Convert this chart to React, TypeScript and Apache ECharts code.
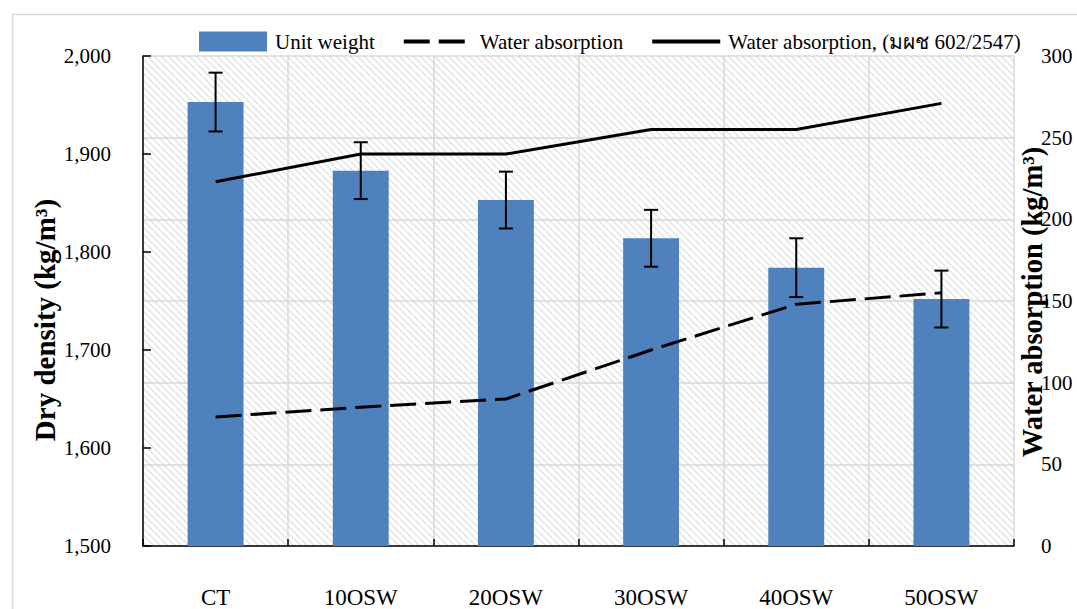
import React, { useEffect, useRef } from "react";
import * as echarts from "echarts";

const categories = ["CT", "10OSW", "20OSW", "30OSW", "40OSW", "50OSW"];
const unitWeight = [1953, 1883, 1853, 1814, 1784, 1752];
const unitWeightErr = [30, 29, 29, 29, 30, 29];
const waterAbsorption = [79, 85, 90, 120, 148, 155];
const waterAbsorptionStd = [223, 240, 240, 255, 255, 271];

const FONT = "'Liberation Serif', 'Times New Roman', serif";

function makeHatch() {
  const c = document.createElement("canvas");
  const s = 7;
  c.width = s;
  c.height = s;
  const ctx = c.getContext("2d")!;
  ctx.fillStyle = "#ffffff";
  ctx.fillRect(0, 0, s, s);
  ctx.strokeStyle = "#e2e2e2";
  ctx.lineWidth = 1.4;
  for (const k of [-s, 0, s]) {
    ctx.beginPath();
    ctx.moveTo(k, 0);
    ctx.lineTo(k + s, s);
    ctx.stroke();
  }
  return c;
}

export default function App() {
  const ref = useRef<HTMLDivElement>(null);
  useEffect(() => {
    const chart = echarts.init(ref.current!, null, { renderer: "svg" });
    const errData = unitWeight.map((v, i) => [i, v - unitWeightErr[i], v + unitWeightErr[i]]);
    chart.setOption({
      animation: false,
      backgroundColor: "#ffffff",
      textStyle: { fontFamily: FONT },
      grid: {
        left: 143,
        right: 63,
        top: 56,
        bottom: 62,
        show: true,
        borderWidth: 0,
        backgroundColor: { image: makeHatch(), repeat: "repeat" },
      },
      legend: {
        left: 199,
        top: 31,
        padding: 0,
        itemWidth: 68,
        itemHeight: 20,
        itemGap: 27,
        textStyle: { fontFamily: FONT, fontSize: 21, color: "#000", padding: [0, 0, 0, 3] },
        data: [
          { name: "Unit weight", icon: "rect" },
          { name: "Water absorption", itemStyle: { opacity: 0 }, lineStyle: { width: 4 } },
          { name: "Water absorption, (มผช 602/2547)", itemStyle: { opacity: 0 }, lineStyle: { width: 4 } },
        ],
      },
      graphic: [
        {
          type: "rect",
          left: 10,
          top: 12,
          shape: { width: 1200, height: 700 },
          style: { fill: "none", stroke: "#d9d9d9", lineWidth: 1.5 },
          silent: true,
          z: -10,
        },
        {
          type: "text",
          x: 45,
          y: 320,
          rotation: Math.PI / 2,
          style: {
            text: "Dry density (kg/m³)",
            fontFamily: FONT,
            fontSize: 29,
            fontWeight: "bold",
            fill: "#000",
            align: "center",
            verticalAlign: "middle",
          },
        },
        {
          type: "text",
          x: 1032,
          y: 302,
          rotation: Math.PI / 2,
          style: {
            text: "Water absorption (kg/m³)",
            fontFamily: FONT,
            fontSize: 28.5,
            fontWeight: "bold",
            fill: "#000",
            align: "center",
            verticalAlign: "middle",
          },
        },
      ],
      xAxis: {
        type: "category",
        data: categories,
        boundaryGap: true,
        axisLine: { show: true, lineStyle: { color: "#000", width: 1.5 } },
        axisTick: { show: true, inside: true, length: 7, lineStyle: { color: "#000", width: 1.5 } },
        axisLabel: { fontFamily: FONT, fontSize: 23, color: "#000", margin: 40 },
        splitLine: { show: true, lineStyle: { color: "#d9d9d9", width: 1.5 } },
      },
      yAxis: [
        {
          type: "value",
          min: 1500,
          max: 2000,
          interval: 100,
          axisLine: { show: true, lineStyle: { color: "#000", width: 1.5 } },
          axisTick: { show: true, inside: true, length: 8, lineStyle: { color: "#000", width: 1.5 } },
          axisLabel: {
            fontFamily: FONT,
            fontSize: 21,
            color: "#000",
            margin: 32,
            formatter: (v: number) => v.toLocaleString("en-US"),
          },
          splitLine: { show: false },
        },
        {
          type: "value",
          min: 0,
          max: 300,
          interval: 50,
          position: "right",
          axisLine: { show: false },
          axisTick: { show: false },
          axisLabel: { fontFamily: FONT, fontSize: 21, color: "#000", margin: 27 },
          splitLine: { show: true, lineStyle: { color: "#d9d9d9", width: 1.5 } },
        },
      ],
      series: [
        {
          name: "Unit weight",
          type: "bar",
          data: unitWeight,
          barWidth: "38.5%",
          itemStyle: { color: "#4f81bd" },
          yAxisIndex: 0,
          z: 2,
        },
        {
          name: "err",
          type: "custom",
          yAxisIndex: 0,
          data: errData,
          encode: { x: 0, y: [1, 2] },
          z: 3,
          renderItem: (params: any, api: any) => {
            const x = api.value(0);
            const lo = api.coord([x, api.value(1)]);
            const hi = api.coord([x, api.value(2)]);
            const w = 7;
            const st = { stroke: "#000", lineWidth: 2 };
            return {
              type: "group",
              children: [
                { type: "line", shape: { x1: lo[0], y1: lo[1], x2: hi[0], y2: hi[1] }, style: st },
                { type: "line", shape: { x1: lo[0] - w, y1: lo[1], x2: lo[0] + w, y2: lo[1] }, style: st },
                { type: "line", shape: { x1: hi[0] - w, y1: hi[1], x2: hi[0] + w, y2: hi[1] }, style: st },
              ],
            };
          },
        },
        {
          name: "Water absorption",
          type: "line",
          yAxisIndex: 1,
          data: waterAbsorption,
          symbol: "none",
          lineStyle: { color: "#000", width: 3, type: [26, 9] },
          itemStyle: { color: "#000" },
          z: 4,
        },
        {
          name: "Water absorption, (มผช 602/2547)",
          type: "line",
          yAxisIndex: 1,
          data: waterAbsorptionStd,
          symbol: "none",
          lineStyle: { color: "#000", width: 3 },
          itemStyle: { color: "#000" },
          z: 4,
        },
      ],
    });
    return () => chart.dispose();
  }, []);
  return (
    <div
      ref={ref}
      style={{ position: "fixed", left: 0, top: 0, width: 1077, height: 609 }}
    />
  );
}
